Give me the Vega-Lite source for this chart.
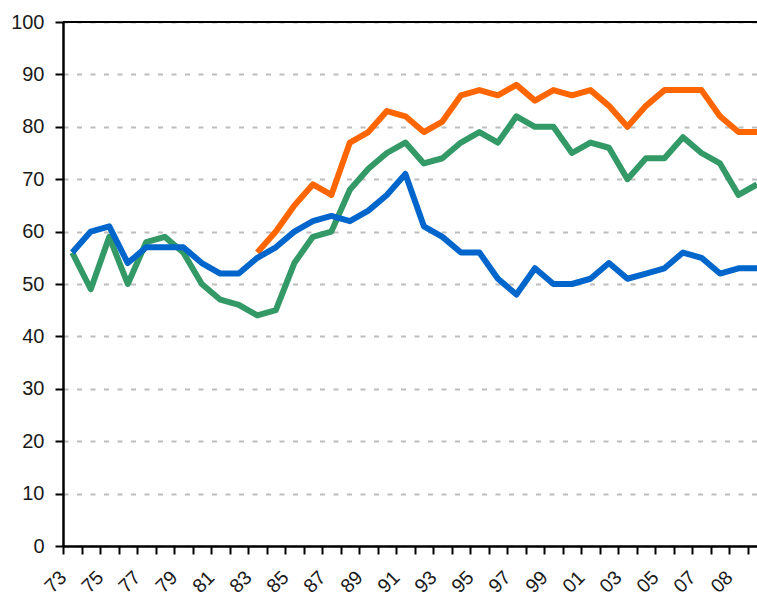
{
  "$schema": "https://vega.github.io/schema/vega-lite/v6.json",
  "width": 694,
  "height": 524,
  "autosize": "none",
  "padding": {"left": 63, "top": 22, "right": 0, "bottom": 52},
  "background": "white",
  "config": {"view": {"stroke": null}, "font": "Liberation Sans"},
  "data": {"values": [
    {"series": "S1", "i": 10, "v": 56}, {"series": "S1", "i": 11, "v": 60}, {"series": "S1", "i": 12, "v": 65}, {"series": "S1", "i": 13, "v": 69},
    {"series": "S1", "i": 14, "v": 67}, {"series": "S1", "i": 15, "v": 77}, {"series": "S1", "i": 16, "v": 79}, {"series": "S1", "i": 17, "v": 83},
    {"series": "S1", "i": 18, "v": 82}, {"series": "S1", "i": 19, "v": 79}, {"series": "S1", "i": 20, "v": 81}, {"series": "S1", "i": 21, "v": 86},
    {"series": "S1", "i": 22, "v": 87}, {"series": "S1", "i": 23, "v": 86}, {"series": "S1", "i": 24, "v": 88}, {"series": "S1", "i": 25, "v": 85},
    {"series": "S1", "i": 26, "v": 87}, {"series": "S1", "i": 27, "v": 86}, {"series": "S1", "i": 28, "v": 87}, {"series": "S1", "i": 29, "v": 84},
    {"series": "S1", "i": 30, "v": 80}, {"series": "S1", "i": 31, "v": 84}, {"series": "S1", "i": 32, "v": 87}, {"series": "S1", "i": 33, "v": 87},
    {"series": "S1", "i": 34, "v": 87}, {"series": "S1", "i": 35, "v": 82}, {"series": "S1", "i": 36, "v": 79}, {"series": "S1", "i": 37, "v": 79},
    {"series": "S2", "i": 0, "v": 56}, {"series": "S2", "i": 1, "v": 49}, {"series": "S2", "i": 2, "v": 59}, {"series": "S2", "i": 3, "v": 50},
    {"series": "S2", "i": 4, "v": 58}, {"series": "S2", "i": 5, "v": 59}, {"series": "S2", "i": 6, "v": 56}, {"series": "S2", "i": 7, "v": 50},
    {"series": "S2", "i": 8, "v": 47}, {"series": "S2", "i": 9, "v": 46}, {"series": "S2", "i": 10, "v": 44}, {"series": "S2", "i": 11, "v": 45},
    {"series": "S2", "i": 12, "v": 54}, {"series": "S2", "i": 13, "v": 59}, {"series": "S2", "i": 14, "v": 60}, {"series": "S2", "i": 15, "v": 68},
    {"series": "S2", "i": 16, "v": 72}, {"series": "S2", "i": 17, "v": 75}, {"series": "S2", "i": 18, "v": 77}, {"series": "S2", "i": 19, "v": 73},
    {"series": "S2", "i": 20, "v": 74}, {"series": "S2", "i": 21, "v": 77}, {"series": "S2", "i": 22, "v": 79}, {"series": "S2", "i": 23, "v": 77},
    {"series": "S2", "i": 24, "v": 82}, {"series": "S2", "i": 25, "v": 80}, {"series": "S2", "i": 26, "v": 80}, {"series": "S2", "i": 27, "v": 75},
    {"series": "S2", "i": 28, "v": 77}, {"series": "S2", "i": 29, "v": 76}, {"series": "S2", "i": 30, "v": 70}, {"series": "S2", "i": 31, "v": 74},
    {"series": "S2", "i": 32, "v": 74}, {"series": "S2", "i": 33, "v": 78}, {"series": "S2", "i": 34, "v": 75}, {"series": "S2", "i": 35, "v": 73},
    {"series": "S2", "i": 36, "v": 67}, {"series": "S2", "i": 37, "v": 69},
    {"series": "S3", "i": 0, "v": 56}, {"series": "S3", "i": 1, "v": 60}, {"series": "S3", "i": 2, "v": 61}, {"series": "S3", "i": 3, "v": 54},
    {"series": "S3", "i": 4, "v": 57}, {"series": "S3", "i": 5, "v": 57}, {"series": "S3", "i": 6, "v": 57}, {"series": "S3", "i": 7, "v": 54},
    {"series": "S3", "i": 8, "v": 52}, {"series": "S3", "i": 9, "v": 52}, {"series": "S3", "i": 10, "v": 55}, {"series": "S3", "i": 11, "v": 57},
    {"series": "S3", "i": 12, "v": 60}, {"series": "S3", "i": 13, "v": 62}, {"series": "S3", "i": 14, "v": 63}, {"series": "S3", "i": 15, "v": 62},
    {"series": "S3", "i": 16, "v": 64}, {"series": "S3", "i": 17, "v": 67}, {"series": "S3", "i": 18, "v": 71}, {"series": "S3", "i": 19, "v": 61},
    {"series": "S3", "i": 20, "v": 59}, {"series": "S3", "i": 21, "v": 56}, {"series": "S3", "i": 22, "v": 56}, {"series": "S3", "i": 23, "v": 51},
    {"series": "S3", "i": 24, "v": 48}, {"series": "S3", "i": 25, "v": 53}, {"series": "S3", "i": 26, "v": 50}, {"series": "S3", "i": 27, "v": 50},
    {"series": "S3", "i": 28, "v": 51}, {"series": "S3", "i": 29, "v": 54}, {"series": "S3", "i": 30, "v": 51}, {"series": "S3", "i": 31, "v": 52},
    {"series": "S3", "i": 32, "v": 53}, {"series": "S3", "i": 33, "v": 56}, {"series": "S3", "i": 34, "v": 55}, {"series": "S3", "i": 35, "v": 52},
    {"series": "S3", "i": 36, "v": 53}, {"series": "S3", "i": 37, "v": 53}
  ]},
  "layer": [
    {
      "mark": {"type": "line", "strokeWidth": 6, "strokeJoin": "round", "strokeCap": "butt"},
      "encoding": {
        "x": {
          "field": "i", "type": "quantitative",
          "scale": {"domain": [-0.5, 37], "nice": false, "zero": false},
          "axis": {
            "title": null, "grid": false,
            "values": [-0.5, 0.5, 1.5, 2.5, 3.5, 4.5, 5.5, 6.5, 7.5, 8.5, 9.5, 10.5, 11.5, 12.5, 13.5, 14.5, 15.5, 16.5, 17.5, 18.5, 19.5, 20.5, 21.5, 22.5, 23.5, 24.5, 25.5, 26.5, 27.5, 28.5, 29.5, 30.5, 31.5, 32.5, 33.5, 34.5, 35.5, 36.5],
            "labelExpr": "(datum.value + 0.5) == 36 ? '08' : (((datum.value + 0.5) % 2 == 0 && (datum.value + 0.5) <= 34) ? slice('0' + ((73 + datum.value + 0.5) % 100), -2) : '')",
            "tickSize": 8, "tickWidth": 2, "tickColor": "black",
            "domainColor": "black", "domainWidth": 2.5,
            "labelAngle": -45, "labelAlign": "right", "labelBaseline": "middle",
            "labelPadding": 20, "labelDx": -8,
            "labelFontSize": 19.5, "labelColor": "#1a1a1a", "labelFont": "Liberation Sans",
            "labelOverlap": false, "labelFlush": false, "labelBound": false
          }
        },
        "y": {
          "field": "v", "type": "quantitative",
          "scale": {"domain": [0, 100], "nice": false},
          "axis": {
            "title": null,
            "values": [0, 10, 20, 30, 40, 50, 60, 70, 80, 90, 100],
            "tickSize": 8, "tickWidth": 2, "tickColor": "black",
            "domainColor": "black", "domainWidth": 2.5,
            "labelFontSize": 20, "labelColor": "#1a1a1a", "labelFont": "Liberation Sans",
            "labelPadding": 11,
            "gridColor": "#bdbdbd", "gridDash": [5, 8.5], "gridWidth": 2
          }
        },
        "color": {
          "field": "series", "type": "nominal",
          "scale": {"domain": ["S1", "S2", "S3"], "range": ["#FF6600", "#339966", "#0066CC"]},
          "legend": null
        }
      }
    },
    {
      "mark": {"type": "rule", "color": "black", "strokeWidth": 2},
      "encoding": {"y": {"datum": 100}}
    }
  ]
}
